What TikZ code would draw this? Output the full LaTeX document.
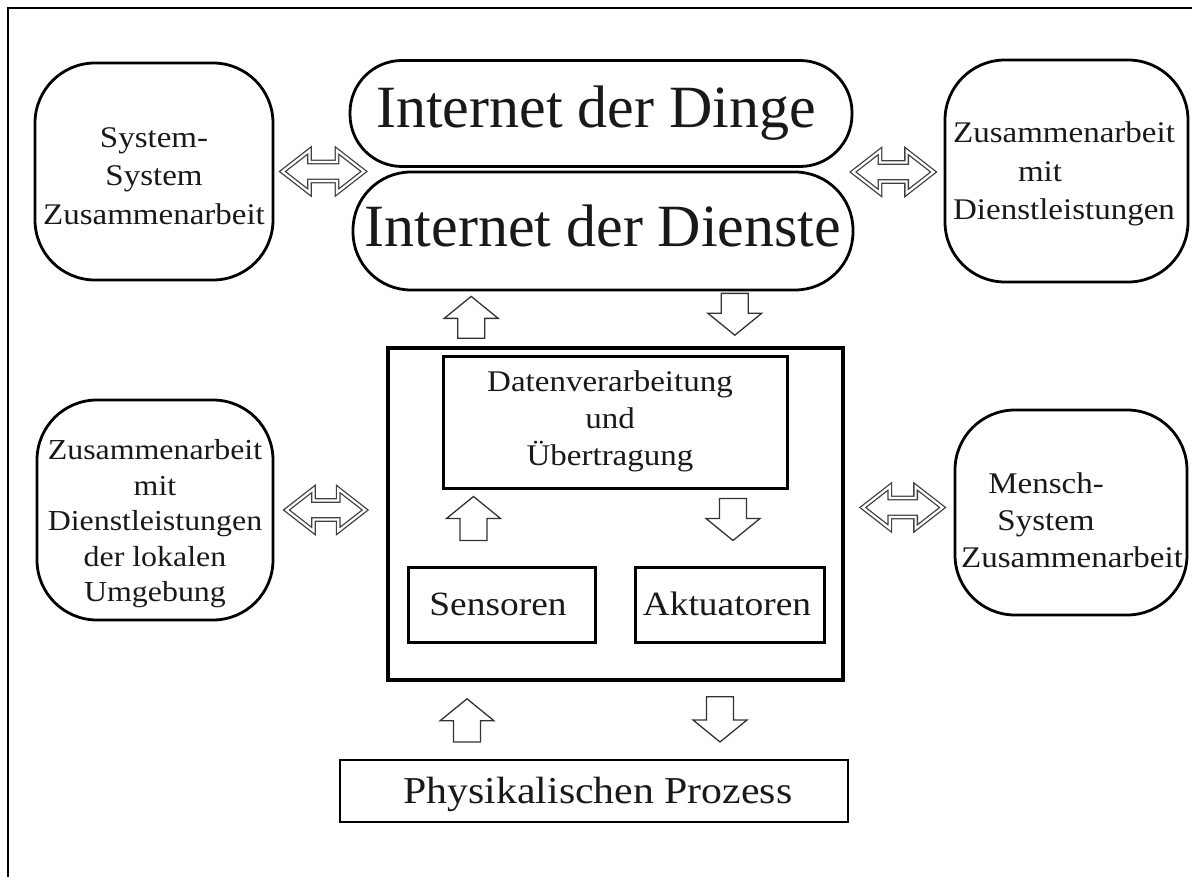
\documentclass[tikz,border=0pt]{standalone}
\usepackage{fontspec}
\setmainfont{Liberation Serif}
\newfontfamily\boxfont[FakeStretch=1.1]{Liberation Serif}
\usetikzlibrary{calc}

% hollow block arrow from a tail point to a tip point (vertical)
\newcommand{\blockarrow}[2]{%
  \draw[blk] let \p1=(#1), \p2=(#2), \n1={ifthenelse(\y2>\y1,1,-1)} in
    ({\x1-13.5pt},\y1) -- ({\x1-13.5pt},{\y2-\n1*22pt}) -- ({\x1-27pt},{\y2-\n1*22pt})
    -- (\x1,\y2) -- ({\x1+27pt},{\y2-\n1*22pt}) -- ({\x1+13.5pt},{\y2-\n1*22pt})
    -- ({\x1+13.5pt},\y1) -- cycle;}
% double-outlined two-headed arrow between two points (horizontal)
\newcommand{\dblarrow}[2]{%
  \draw[dbl] let \p1=(#1), \p2=(#2) in
    (\x1,\y1) -- ({\x1+27pt},{\y1+21pt}) -- ({\x1+27pt},{\y1+9.5pt})
    -- ({\x2-27pt},{\y1+9.5pt}) -- ({\x2-27pt},{\y1+21pt}) -- (\x2,\y1)
    -- ({\x2-27pt},{\y1-21pt}) -- ({\x2-27pt},{\y1-9.5pt})
    -- ({\x1+27pt},{\y1-9.5pt}) -- ({\x1+27pt},{\y1-21pt}) -- cycle;}
% invisible spacer that keeps a short line off-centre
\newcommand{\padright}[1]{\rule{#1}{0pt}}

\begin{document}
\begin{tikzpicture}[x=1pt,y=-1pt,
  rbox/.style={draw, line width=2.8pt, rounded corners=#1, inner sep=0pt},
  rbox/.default=60pt,
  sq/.style={draw, line width=3pt, inner sep=0pt},
  txt/.style={align=center, inner sep=0pt, text=black!90,
              font=\boxfont\fontsize{30}{38.5}\selectfont},
  lbl/.style={anchor=base, inner sep=0pt, text=black!90},
  blk/.style={draw=black!80, line width=1.3pt, fill=white, line join=miter},
  dbl/.style={draw=black!75, double=white, line width=1.3pt,
              double distance=2.2pt, line join=miter}]
\useasboundingbox (0,0) rectangle (1192,877);

% outer frame (top and left edges)
\draw[line width=2.6pt] (8,877) -- (8,8) -- (1192,8);

% Internet of things / services
\node[rbox=52pt, minimum width=502pt, minimum height=106pt] (dinge) at (601,113.5) {};
\node[rbox=58pt, minimum width=500pt, minimum height=118pt] (dienste) at (603,231) {};
\node[lbl, font=\fontsize{60}{60}\selectfont] (dingeT) at (596,128) {Internet der Dinge};
\node[lbl, font=\fontsize{60}{60}\selectfont] (diensteT) at (603,247) {Internet der Dienste};

% cooperation boxes
\node[rbox, minimum width=238pt, minimum height=217pt] (lt) at (154,171.5) {};
\node[rbox, minimum width=243pt, minimum height=222pt] (rt) at (1066.5,171) {};
\node[rbox, minimum width=236pt, minimum height=220pt] (lm) at (155,510) {};
\node[rbox, minimum width=232pt, minimum height=205pt] (rm) at (1071,512.5) {};

\node[txt] (ltT) at (154,176) {System-\\System\\Zusammenarbeit};
\node[txt] (rtT) at (1064,174) {Zusammenarbeit\\mit\padright{48pt}\\Dienstleistungen};
\node[txt, font=\boxfont\fontsize{29}{35.5}\selectfont] (lmT) at (155,524)
  {Zusammenarbeit\\mit\\Dienstleistungen\\der lokalen\\Umgebung};
\node[txt, font=\boxfont\fontsize{30}{37}\selectfont] (rmT) at (1072,520)
  {Mensch-\padright{52pt}\\System\padright{52pt}\\Zusammenarbeit};

% embedded system
\node[draw, line width=3.6pt, inner sep=0pt, minimum width=455pt, minimum height=332pt] (core) at (615.5,514) {};
\node[sq, minimum width=344pt, minimum height=131pt] (data) at (615,422.5) {};
\node[sq, minimum width=187pt, minimum height=75pt] (sens) at (501.5,604.5) {};
\node[sq, minimum width=189pt, minimum height=75pt] (akt) at (729.5,604.5) {};
\node[txt, font=\boxfont\fontsize{30}{37}\selectfont] (dataT) at (610,421)
  {Datenverarbeitung\\und\\Übertragung};
\node[lbl, font=\boxfont\fontsize{34}{34}\selectfont] (sensT) at (498,615) {Sensoren};
\node[lbl, font=\boxfont\fontsize{34}{34}\selectfont] (aktT) at (727,615) {Aktuatoren};

% physical process
\node[draw, line width=2pt, inner sep=0pt, minimum width=508pt, minimum height=62pt] (phys) at (594,791) {};
\node[lbl, font=\boxfont\fontsize{38}{38}\selectfont] (physT) at (598,803) {Physikalischen Prozess};

% two-headed cooperation arrows
\coordinate (waistL) at (364,171.5);
\coordinate (waistR) at (853,172);
\dblarrow{$(lt.east)+(8,0)$}{waistL}
\dblarrow{waistR}{$(rt.west)+(-10,0)$}
\dblarrow{$(lm.east)+(12,0)$}{$(core.west |- lm.east)+(-21,0)$}
\dblarrow{$(core.east |- rm.west)+(18,-5)$}{$(rm.west)+(-11,-5)$}

% data flow arrows
\coordinate (u1) at ($(core.north west)+(85,-8)$);
\blockarrow{u1}{$(u1 |- dienste.south)+(0,5)$}
\coordinate (d1) at ($(dienste.south -| core.north east)+(-110,2)$);
\blockarrow{d1}{$(d1 |- core.north)+(0,-11)$}
\coordinate (u2) at ($(sens.north)+(-28,-25)$);
\blockarrow{u2}{$(u2 |- data.south)+(0,7)$}
\coordinate (d2) at ($(data.south)+(118,9)$);
\blockarrow{d2}{$(d2 |- akt.north)+(0,-25)$}
\coordinate (u3) at ($(phys.north)+(-127,-17)$);
\blockarrow{u3}{$(u3 |- core.south)+(0,17)$}
\coordinate (d3) at ($(core.south)+(104.5,15)$);
\blockarrow{d3}{$(d3 |- phys.north)+(0,-17)$}
\end{tikzpicture}
\end{document}
